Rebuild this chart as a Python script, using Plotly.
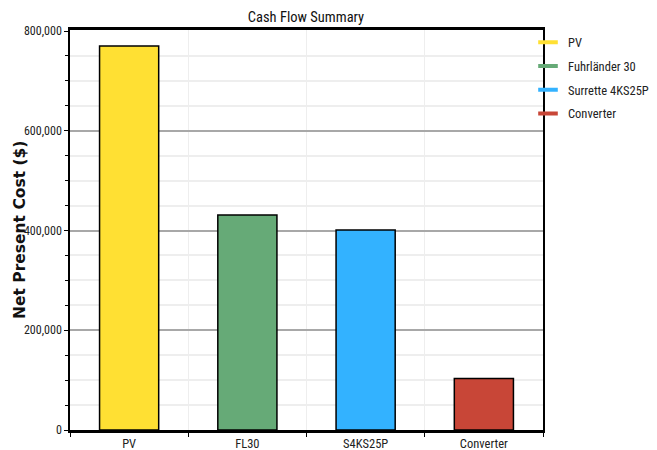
import plotly.graph_objects as go

categories = ["PV", "FL30", "S4KS25P", "Converter"]
legend_names = ["PV", "Fuhrländer 30", "Surrette 4KS25P", "Converter"]
npc_values = [770000, 431000, 401000, 103500]
colors = ["#FFE033", "#66AA77", "#33B2FF", "#C84637"]

NARROW = "Roboto Condensed, Liberation Sans Narrow, sans-serif"

# page body has an 8px margin in the browser; figure is sized to compensate
W, H = 649, 442

fig = go.Figure()
for cat, name, val, col in zip(categories, legend_names, npc_values, colors):
    fig.add_trace(go.Bar(
        x=[cat], y=[val], name=name, width=0.5,
        marker=dict(color=col, line=dict(color="black", width=1.5)),
        showlegend=False,
    ))
for i, (name, col) in enumerate(zip(legend_names, colors)):
    fig.add_trace(go.Scatter(
        x=[None], y=[None], name=name, mode="markers",
        legendgroup=f"g{i}",
        marker=dict(symbol="line-ew", size=14, color=col,
                    line=dict(color=col, width=4)),
    ))

fig.update_layout(
    width=W, height=H,
    margin=dict(l=62, r=114, t=22, b=20, autoexpand=False),
    paper_bgcolor="white", plot_bgcolor="white",
    barmode="overlay",
    title=dict(text="Cash Flow Summary", x=298/W, xanchor="center",
               y=1-9/H, yanchor="middle",
               font=dict(family=NARROW, size=14.5, color="#111")),
    font=dict(family=NARROW, size=12, color="#222"),
    legend=dict(x=(528-70)/473, y=1.006, xanchor="left", yanchor="top",
                bgcolor="rgba(0,0,0,0)", font=dict(family=NARROW, size=12.5, color="#222"),
                traceorder="grouped", tracegroupgap=4.5),
    showlegend=True,
)
fig.update_xaxes(
    type="category", categoryorder="array", categoryarray=categories,
    showline=True, linecolor="black", linewidth=2.5, mirror=True,
    tickson="boundaries", ticks="outside", ticklen=4, tickcolor="black",
    showgrid=True, gridcolor="#eeeeee", gridwidth=1,
    tickfont=dict(family=NARROW, size=12.5, color="#222"),
)
fig.update_yaxes(
    range=[0, 802000], tickvals=[0, 200000, 400000, 600000, 800000],
    tickformat=",d", showline=True, linecolor="black", linewidth=1.5, mirror=True,
    ticks="outside", ticklen=4, tickcolor="black",
    showgrid=True, gridcolor="#a8a8a8", gridwidth=1.5, zeroline=False,
    tickfont=dict(family=NARROW, size=12, color="#222"),
    minor=dict(dtick=50000, showgrid=True, gridcolor="#eeeeee", gridwidth=1.5,
               ticks="outside", ticklen=3, tickcolor="black"),
)
fig.add_annotation(
    text="<b>Net Present Cost ($)</b>", textangle=-90,
    xref="paper", yref="paper", x=(20-70)/473, y=0.5,
    xanchor="center", yanchor="middle", showarrow=False,
    font=dict(family="DejaVu Sans, sans-serif", size=15.5, color="#111"),
)
fig.write_html("out.html")
